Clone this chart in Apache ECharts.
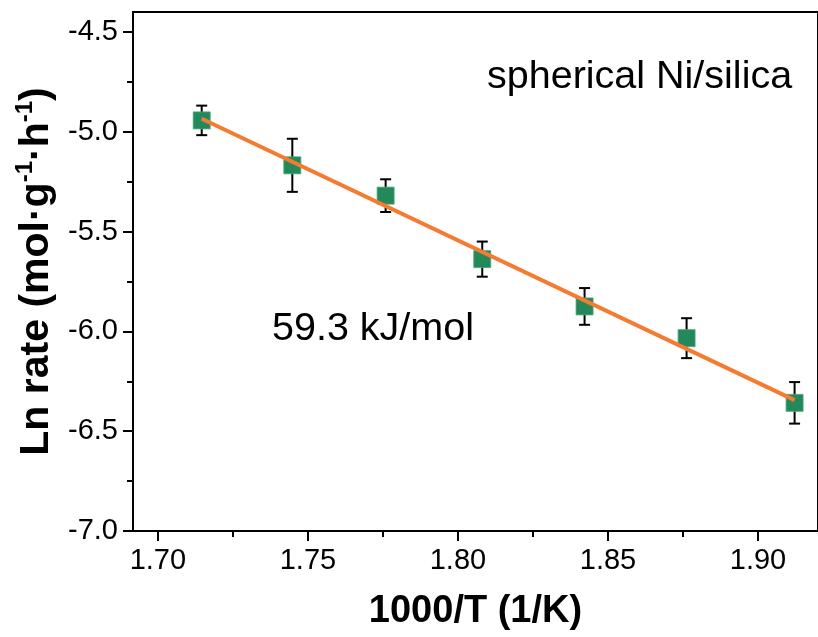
<!DOCTYPE html>
<html>
<head>
<meta charset="utf-8">
<script src="https://cdn.jsdelivr.net/npm/echarts@6/dist/echarts.min.js"></script>
<style>
  html, body { margin: 0; padding: 0; background: #ffffff; }
  #chart { width: 818px; height: 637px; }
</style>
</head>
<body>
<div id="chart"></div>
<script>
// Arrhenius data: 1000/T (1/K) against ln(rate)
const invT = [1.7146, 1.7448, 1.7759, 1.8081, 1.8422, 1.8762, 1.9122];
const lnRate = [-4.943, -5.168, -5.320, -5.638, -5.875, -6.034, -6.358];
const errHalf = [0.074, 0.133, 0.082, 0.088, 0.092, 0.100, 0.104];

// apparent activation energy (kJ/mol) from the Arrhenius slope
const Ea = 59.3;
const R = 8.314e-3; // kJ/(mol K)

const xMajorTicks = [1.70, 1.75, 1.80, 1.85, 1.90];
const xMinorTicks = [1.725, 1.775, 1.825, 1.875];
const yMajorTicks = [-7.0, -6.5, -6.0, -5.5, -5.0, -4.5];
const yMinorTicks = [-6.75, -6.25, -5.75, -5.25, -4.75];

// fitted line: slope = -Ea/R (x in 1000/T), passing through the data centroid
const slope = -Ea / R / 1000;
const mx = invT.reduce((a, b) => a + b, 0) / invT.length;
const my = lnRate.reduce((a, b) => a + b, 0) / lnRate.length;
const fitX = [invT[0], invT[invT.length - 1]];
const fitData = fitX.map(x => [x, my + slope * (x - mx)]);

const errData = invT.map((x, i) => [x, lnRate[i] - errHalf[i], lnRate[i] + errHalf[i]]);

const FONT = 'Liberation Sans, Arial, sans-serif';
const X_MIN = 1.6917, X_MAX = 1.92, Y_MIN = -7.0, Y_MAX = -4.4;

const chart = echarts.init(document.getElementById('chart'), null, { renderer: 'canvas' });

const baseAxisLine = { show: true, lineStyle: { color: '#000', width: 2 } };

chart.setOption({
  backgroundColor: '#ffffff',
  animation: false,
  grid: {
    left: 133, top: 12, width: 697, height: 519,
    show: true, borderColor: '#000', borderWidth: 2, backgroundColor: 'transparent'
  },
  xAxis: [
    {
      type: 'value', min: X_MIN, max: X_MAX,
      name: '1000/T (1/K)', nameLocation: 'middle', nameGap: 62,
      nameTextStyle: { fontFamily: FONT, fontSize: 38, fontWeight: 'bold', color: '#000' },
      axisLine: baseAxisLine,
      axisTick: { show: true, inside: false, length: 10, customValues: xMajorTicks,
                  lineStyle: { color: '#000', width: 2 } },
      axisLabel: { show: true, customValues: xMajorTicks, margin: 15,
                   fontFamily: FONT, fontSize: 29, color: '#000',
                   formatter: v => v.toFixed(2) },
      splitLine: { show: false }
    },
    {
      type: 'value', min: X_MIN, max: X_MAX, position: 'bottom',
      axisLine: { show: false },
      axisTick: { show: true, length: 6, customValues: xMinorTicks,
                  lineStyle: { color: '#000', width: 2 } },
      axisLabel: { show: false },
      splitLine: { show: false }
    }
  ],
  yAxis: [
    {
      type: 'value', min: Y_MIN, max: Y_MAX,
      name: '{b|Ln rate (mol·g}{s|-1}{b|·h}{s|-1}{b|)}',
      nameLocation: 'middle', nameGap: 74, nameRotate: 90,
      nameTextStyle: {
        fontFamily: FONT, color: '#000',
        rich: {
          b: { fontFamily: FONT, fontSize: 41, fontWeight: 'bold', color: '#000', lineHeight: 44, verticalAlign: 'bottom' },
          s: { fontFamily: FONT, fontSize: 24, fontWeight: 'bold', color: '#000', lineHeight: 44, verticalAlign: 'top', padding: [0, 0, 16, 0] }
        }
      },
      axisLine: baseAxisLine,
      axisTick: { show: true, inside: false, length: 10, customValues: yMajorTicks,
                  lineStyle: { color: '#000', width: 2 } },
      axisLabel: { show: true, customValues: yMajorTicks, margin: 15,
                   fontFamily: FONT, fontSize: 29, color: '#000',
                   formatter: v => v.toFixed(1) },
      splitLine: { show: false }
    },
    {
      type: 'value', min: Y_MIN, max: Y_MAX, position: 'left',
      axisLine: { show: false },
      axisTick: { show: true, length: 6, customValues: yMinorTicks,
                  lineStyle: { color: '#000', width: 2 } },
      axisLabel: { show: false },
      splitLine: { show: false }
    }
  ],
  series: [
    {
      name: 'error',
      type: 'custom',
      xAxisIndex: 0, yAxisIndex: 0,
      z: 1,
      data: errData,
      encode: { x: 0, y: [1, 2] },
      renderItem: function (params, api) {
        const x = api.value(0);
        const lo = api.coord([x, api.value(1)]);
        const hi = api.coord([x, api.value(2)]);
        const cap = 5.5;
        const style = { stroke: '#000', lineWidth: 2 };
        return {
          type: 'group',
          children: [
            { type: 'line', shape: { x1: lo[0], y1: lo[1], x2: hi[0], y2: hi[1] }, style },
            { type: 'line', shape: { x1: lo[0] - cap, y1: lo[1], x2: lo[0] + cap, y2: lo[1] }, style },
            { type: 'line', shape: { x1: hi[0] - cap, y1: hi[1], x2: hi[0] + cap, y2: hi[1] }, style }
          ]
        };
      }
    },
    {
      name: 'ln rate',
      type: 'scatter',
      xAxisIndex: 0, yAxisIndex: 0,
      z: 2,
      symbol: 'rect',
      symbolSize: 17,
      itemStyle: { color: '#23895b', borderColor: '#4aa67a', borderWidth: 0.8, opacity: 1 },
      data: invT.map((x, i) => [x, lnRate[i]])
    },
    {
      name: 'fit',
      type: 'line',
      xAxisIndex: 0, yAxisIndex: 0,
      z: 3,
      showSymbol: false,
      symbol: 'none',
      lineStyle: { color: '#f47b30', width: 4 },
      data: fitData
    }
  ],
  graphic: [
    {
      type: 'text', left: 487, top: 57,
      style: { text: 'spherical Ni/silica', font: '39.5px ' + FONT, fill: '#000' }
    },
    {
      type: 'text', left: 272, top: 309,
      style: { text: Ea.toFixed(1) + ' kJ/mol', font: '39.5px ' + FONT, fill: '#000' }
    }
  ]
});
</script>
</body>
</html>
